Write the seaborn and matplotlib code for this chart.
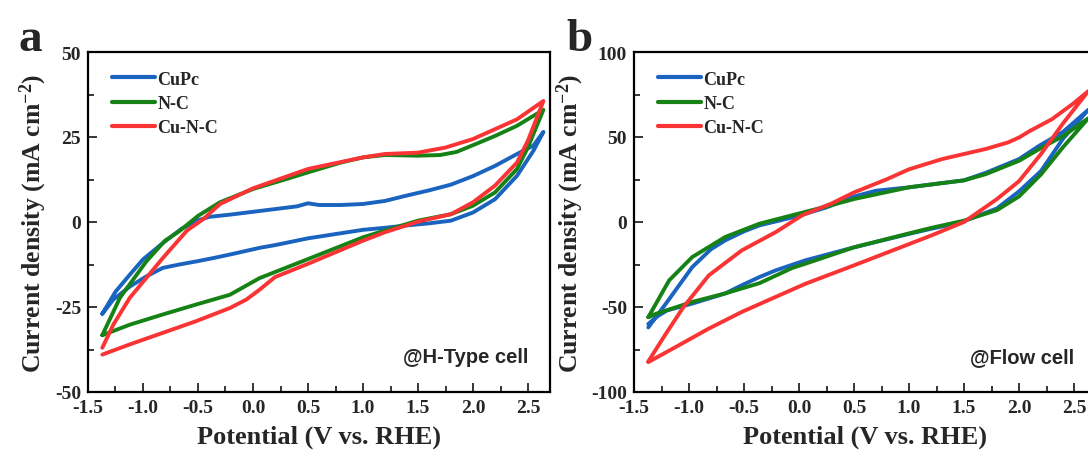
import numpy as np
import pandas as pd
import seaborn as sns
import matplotlib.pyplot as plt
from matplotlib.ticker import MultipleLocator, FormatStrFormatter

# ---- data (potential V vs RHE, current density mA cm-2)
# panel a, H-type cell: forward scan then reverse scan
cupc_a_v = [-1.37, -1.25, -1.12, -1.0, -0.82, -0.65, -0.5, -0.4, -0.2, 0.0, 0.2, 0.4, 0.5, 0.6, 0.8,
            1.0, 1.2, 1.4, 1.6, 1.8, 2.0, 2.2, 2.4, 2.55, 2.64,
            2.55, 2.4, 2.2, 2.0, 1.8, 1.6, 1.4, 1.2, 1.0, 0.8, 0.5, 0.2, 0.06, -0.2, -0.36, -0.5,
            -0.67, -0.82, -0.97, -1.12, -1.27, -1.37]
cupc_a_i = [-27, -20.5, -15.5, -11, -6.2, -2, 0.5, 1.5, 2.2, 3, 3.8, 4.6, 5.5, 5.0, 5.0,
            5.3, 6.2, 7.8, 9.3, 11, 13.5, 16.5, 20, 22.5, 26.5,
            21, 13.6, 6.7, 2.8, 0.4, -0.4, -1.0, -1.7, -2.3, -3.3, -4.8, -6.8, -7.6, -9.5, -10.6, -11.5,
            -12.5, -13.5, -16, -19, -22.8, -27]

nc_a_v = [-1.37, -1.21, -0.97, -0.8, -0.67, -0.5, -0.3, 0.0, 0.3, 0.5, 0.8, 1.0, 1.2, 1.5, 1.7,
          1.85, 2.0, 2.2, 2.4, 2.64,
          2.5, 2.4, 2.2, 2.0, 1.8, 1.5, 1.2, 1.0, 0.5, 0.06, -0.21, -0.52, -0.82, -1.12, -1.37]
nc_a_i = [-33.3, -22.3, -11.6, -5.5, -2.7, 1.8, 5.8, 9.7, 12.6, 14.6, 17.5, 19, 19.7, 19.5, 19.7,
          20.6, 22.6, 25.3, 28.3, 33,
          22, 15.6, 8.7, 4.8, 2.3, 0.4, -2.5, -4.5, -10.9, -16.5, -21.4, -24.3, -27.2, -30.2, -33.3]

cunc_a_v = [-1.37, -1.27, -1.12, -0.82, -0.6, -0.45, -0.3, 0.0, 0.5, 1.0, 1.2, 1.5, 1.75, 2.0,
            2.2, 2.4, 2.64,
            2.5, 2.4, 2.2, 2.0, 1.8, 1.5, 1.2, 1.0, 0.5, 0.2, 0.06, -0.06, -0.21, -0.52, -0.82,
            -1.12, -1.37]
cunc_a_i = [-37, -30.2, -22.3, -10.6, -2.5, 0.9, 5.3, 9.9, 15.6, 19, 20, 20.4, 21.9, 24.4,
            27.3, 30.2, 35.6,
            24, 17.5, 10.7, 5.8, 2.3, 0.1, -3, -5.5, -12.3, -16.2, -19.9, -22.8, -25.3, -29.2, -32.6,
            -36, -39]

# panel b, flow cell
cupc_b_v = [-1.37, -1.21, -0.97, -0.8, -0.67, -0.5, -0.36, -0.2, 0.0, 0.25, 0.5, 0.7, 1.0, 1.3,
            1.5, 1.7, 2.0, 2.18, 2.4, 2.63,
            2.4, 2.2, 2.0, 1.8, 1.46, 1.2, 1.0, 0.5, 0.06, -0.21, -0.36, -0.52, -0.67, -0.97,
            -1.2, -1.3, -1.37]
cupc_b_i = [-62, -48, -26.5, -16, -10.8, -5.5, -2, 0.5, 3.7, 8.6, 15, 18.4, 20.4, 22.9,
            24.5, 29, 37, 44.7, 53, 66,
            49, 30, 18, 8, -0.5, -4, -7, -14.9, -22.5, -28.4, -32.4, -37.2, -42, -48,
            -52, -56, -60]

nc_b_v = [-1.37, -1.18, -0.97, -0.67, -0.36, -0.06, 0.3, 0.5, 1.0, 1.5, 1.7, 2.0, 2.2, 2.4, 2.63,
          2.4, 2.2, 2.0, 1.8, 1.5, 1.2, 1.0, 0.5, 0.06, -0.06, -0.36, -0.67, -0.97, -1.3, -1.37]
nc_b_i = [-56, -34.3, -20.6, -8.8, -1, 4, 10, 13.5, 20.4, 24.5, 28.2, 36, 43.5, 50.5, 61,
          44, 28, 15, 7, 0.8, -3.5, -6.7, -14.9, -24.5, -27, -36, -42, -47, -54, -56]

cunc_b_v = [-1.37, -1.21, -1.05, -0.82, -0.52, -0.21, 0.03, 0.3, 0.5, 0.8, 1.0, 1.3, 1.5, 1.7,
            1.9, 2.0, 2.1, 2.3, 2.5, 2.63,
            2.4, 2.2, 2.0, 1.8, 1.5, 1.2, 1.0, 0.5, 0.06, -0.21, -0.52, -0.82, -1.12, -1.37]
cunc_b_i = [-82, -65.7, -50, -31.4, -16.7, -5.9, 4, 11, 17.4, 25.2, 31, 37, 40, 43,
            46.8, 49.7, 53.6, 60.5, 70, 77,
            58, 40, 24, 13.5, 0, -8, -13, -25.5, -36.3, -44, -52.9, -62.7, -73.5, -82.4]

samples = ["CuPc", "N-C", "Cu-N-C"]
colors = {"CuPc": "#1a64c0", "N-C": "#168216", "Cu-N-C": "#fa3434"}


def make_df(curves):
    rows = []
    for name, (v, i) in zip(samples, curves):
        rows.append(pd.DataFrame({"sample": name, "V": v, "I": i, "step": range(len(v))}))
    return pd.concat(rows, ignore_index=True)


df_a = make_df([(cupc_a_v, cupc_a_i), (nc_a_v, nc_a_i), (cunc_a_v, cunc_a_i)])
df_b = make_df([(cupc_b_v, cupc_b_i), (nc_b_v, nc_b_i), (cunc_b_v, cunc_b_i)])

sns.set_style("ticks")
plt.rcParams["font.family"] = ["Liberation Serif", "DejaVu Serif"]
plt.rcParams["font.weight"] = "bold"
plt.rcParams["axes.unicode_minus"] = False
plt.rcParams["mathtext.fontset"] = "custom"
plt.rcParams["mathtext.rm"] = "Liberation Serif:bold"
plt.rcParams["mathtext.default"] = "rm"

fig = plt.figure(figsize=(10.88, 4.56), dpi=100)
W, H = 1088, 456
ax_a = fig.add_axes([88 / W, (H - 393) / H, 462 / W, 340 / H])
ax_b = fig.add_axes([634 / W, (H - 393) / H, 462 / W, 340 / H])

panels = [
    (ax_a, df_a, (-50, 50), 25, 12.5, "@H-Type cell"),
    (ax_b, df_b, (-100, 100), 50, 25, "@Flow cell"),
]

for ax, df, ylim, ymaj, ymin, note in panels:
    sns.lineplot(data=df, x="V", y="I", hue="sample", palette=colors, sort=False,
                 estimator=None, units="sample", lw=2.8, ax=ax, legend=True)
    ax.set_xlim(-1.5, 2.7)
    ax.set_ylim(*ylim)
    ax.xaxis.set_major_locator(MultipleLocator(0.5))
    ax.xaxis.set_minor_locator(MultipleLocator(0.25))
    ax.yaxis.set_major_locator(MultipleLocator(ymaj))
    ax.yaxis.set_minor_locator(MultipleLocator(ymin))
    ax.xaxis.set_major_formatter(FormatStrFormatter("%.1f"))
    ax.yaxis.set_major_formatter(FormatStrFormatter("%d"))
    ax.tick_params(which="both", direction="in", top=False, right=False, width=1.3)
    ax.tick_params(which="major", length=6.5, labelsize=14, pad=5)
    ax.tick_params(which="minor", length=4)
    for s in ax.spines.values():
        s.set_linewidth(1.6)
        s.set_color("black")
    for lab in ax.get_xticklabels() + ax.get_yticklabels():
        lab.set_fontweight("bold")
    ax.set_xlabel("Potential (V vs. RHE)", fontsize=19, fontweight="bold", labelpad=6)
    ax.set_ylabel("Current density (mA cm$^{-2}$)", fontsize=18.5, fontweight="bold", labelpad=4)

    handles, labels = ax.get_legend_handles_labels()
    leg = ax.legend(handles, labels, loc="upper left", bbox_to_anchor=(0.052, 0.945),
                    frameon=False, handlelength=2.4, handletextpad=0.1,
                    labelspacing=0.4, borderpad=0, borderaxespad=0,
                    prop={"family": "Liberation Serif", "weight": "bold", "size": 13})
    for h in leg.legend_handles:
        h.set_linewidth(3)

    ax.text(0.953, 0.105, note, transform=ax.transAxes, ha="right", va="center",
            fontsize=14.5, fontweight="bold", family=["Liberation Sans", "DejaVu Sans"])

fig.text(18 / W, 1 - 40 / H, "a", fontsize=34, fontweight="bold", va="center", ha="left")
fig.text(566 / W, 1 - 40 / H, "b", fontsize=34, fontweight="bold", va="center", ha="left")

plt.savefig("out.png", dpi=100)
